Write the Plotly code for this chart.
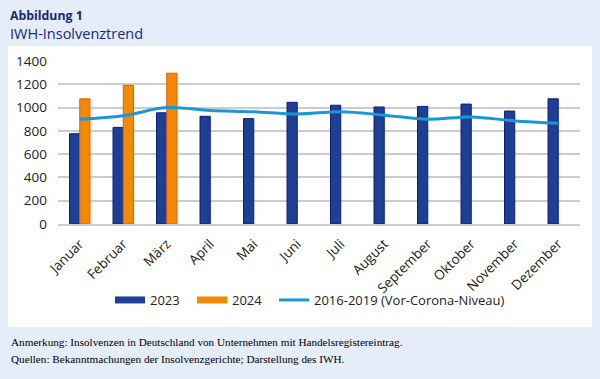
import plotly.graph_objects as go

months = ["Januar", "Februar", "März", "April", "Mai", "Juni", "Juli",
          "August", "September", "Oktober", "November", "Dezember"]
vals_2023 = [775, 830, 955, 925, 905, 1045, 1020, 1005, 1010, 1030, 970, 1075]
vals_2024 = [1075, 1190, 1295, None, None, None, None, None, None, None, None, None]
vals_pre = [900, 930, 1000, 975, 965, 945, 965, 935, 900, 920, 885, 865]
y_ticks = [0, 200, 400, 600, 800, 1000, 1200, 1400]

W, H = 600, 379
L, R, T, B = 58, 20, 61, 155
pw, ph = W - L - R, H - T - B


def px(x):
    return (x - L) / pw


def py(y):
    return (H - B - y) / ph


c2023, l2023 = "#1d3f94", "#0b1c86"
c2024, l2024 = "#f28a05", "#ea5a0a"
cline = "#1b97d6"

fig = go.Figure()
fig.add_trace(go.Bar(x=months, y=vals_2023, name="2023", showlegend=False,
                     marker=dict(color=c2023, line=dict(color=l2023, width=1))))
fig.add_trace(go.Bar(x=months, y=vals_2024, name="2024", showlegend=False,
                     marker=dict(color=c2024, line=dict(color=l2024, width=1))))
fig.add_trace(go.Scatter(x=months, y=vals_pre, name="2016-2019 (Vor-Corona-Niveau)",
                         showlegend=False,
                         mode="lines", line=dict(color=cline, width=3, shape="spline")))
# legend entries (rectangular swatches like the original)
fig.add_trace(go.Scatter(x=[None], y=[None], name="2023", mode="lines",
                         line=dict(color=c2023, width=7), legend="legend"))
fig.add_trace(go.Scatter(x=[None], y=[None], name="2024", mode="lines",
                         line=dict(color=c2024, width=7), legend="legend2"))
fig.add_trace(go.Scatter(x=[None], y=[None], name="2016-2019 (Vor-Corona-Niveau)",
                         mode="lines", line=dict(color=cline, width=3), legend="legend3"))

font_main = "Open Sans, sans-serif"

fig.add_shape(type="rect", xref="paper", yref="paper", layer="below",
              x0=px(8), x1=px(592), y0=py(327), y1=py(46),
              fillcolor="white", line=dict(width=0))

ann = [
    dict(text="<b>Abbildung 1</b>", x=px(8), y=py(15), font=dict(size=12.3, color="#16297a")),
    dict(text="IWH-Insolvenztrend", x=px(8), y=py(33), font=dict(size=14.5, color="#16297a")),
    dict(text="Anmerkung: Insolvenzen in Deutschland von Unternehmen mit Handelsregistereintrag.",
         x=px(9), y=py(342), font=dict(size=11.2, color="#000000", family="Liberation Serif, serif")),
    dict(text="Quellen: Bekanntmachungen der Insolvenzgerichte; Darstellung des IWH.",
         x=px(9), y=py(359), font=dict(size=11.2, color="#000000", family="Liberation Serif, serif")),
]
for a in ann:
    fig.add_annotation(xref="paper", yref="paper", xanchor="left", yanchor="middle",
                       showarrow=False, **a)


def leg(xpix):
    return dict(orientation="h", x=px(xpix), xanchor="left", y=py(300), yanchor="middle",
                font=dict(size=13, color="#222222"), bgcolor="rgba(0,0,0,0)",
                itemwidth=30)


fig.update_layout(
    width=W, height=H,
    margin=dict(l=L, r=R, t=T, b=B),
    paper_bgcolor="#e5edf8",
    plot_bgcolor="rgba(0,0,0,0)",
    font=dict(family=font_main, size=13, color="#222222"),
    barmode="group", bargap=0.53, bargroupgap=0,
    showlegend=True,
    legend=leg(110), legend2=leg(192), legend3=leg(274),
    xaxis=dict(tickangle=-45, tickfont=dict(size=13.5), showgrid=False,
               showline=True, linecolor="#cccccc", linewidth=1.5, ticks="",
               ticklabelstandoff=5),
    yaxis=dict(range=[0, 1400], tickvals=y_ticks, showgrid=True, gridcolor="#cccccc",
               gridwidth=1.5, zeroline=False, ticks="", tickfont=dict(size=13.5),
               ticklabelstandoff=10),
)

fig.write_html("out.html", config={"displayModeBar": False},
               post_script="document.body.style.margin='0';document.body.style.background='#e5edf8';")
